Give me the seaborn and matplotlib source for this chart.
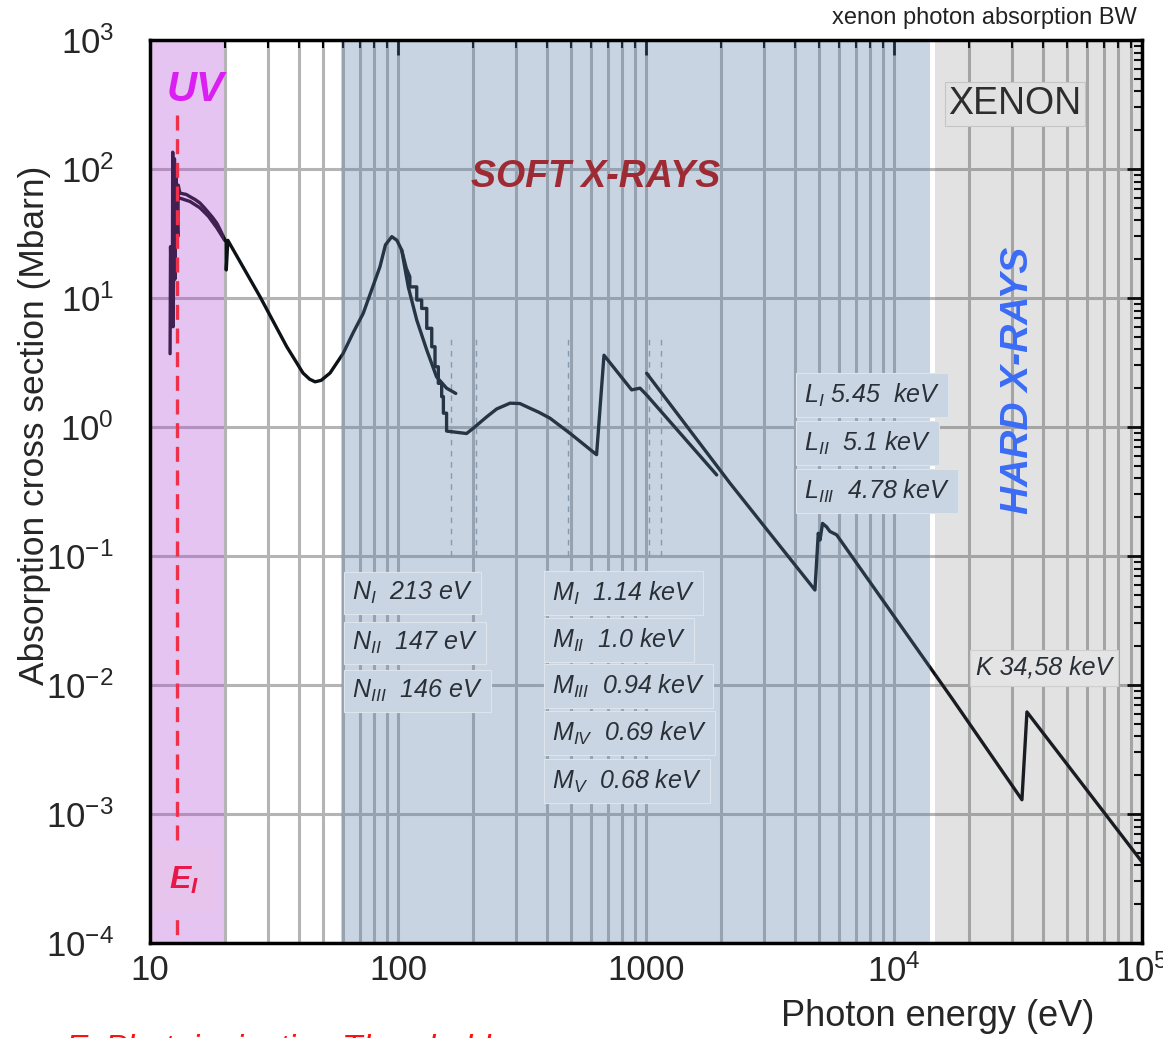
import numpy as np
import pandas as pd
import matplotlib
matplotlib.use("Agg")
import matplotlib.pyplot as plt
from matplotlib.ticker import LogLocator, FixedLocator, FixedFormatter, NullFormatter
import seaborn as sns

sns.set_theme(style="white")
plt.rcParams["font.family"] = ["Liberation Sans", "DejaVu Sans"]
plt.rcParams["mathtext.fontset"] = "custom"
plt.rcParams["mathtext.rm"] = "Liberation Sans"
plt.rcParams["mathtext.it"] = "Liberation Sans:italic"
plt.rcParams["mathtext.bf"] = "Liberation Sans:bold"
plt.rcParams["mathtext.bfit"] = "Liberation Sans:italic:bold"
plt.rcParams["mathtext.default"] = "regular"

# ---- photoabsorption cross section of xenon (eV, Mbarn) ----
autoion_energy = [12.05, 12.1, 12.3, 12.35, 12.4, 12.55, 12.6, 12.7, 12.95, 13.0, 13.2]
autoion_sigma = [3.7, 25, 6, 135, 6, 120, 14, 100, 30, 75, 65]

valence_energy = [13.2, 14.0, 14.5, 15.2, 15.9, 16.5, 17.2, 17.9, 18.6, 19.3, 20.0,
                  20.3, 20.3, 20.6, 27.8, 35.6, 41.4, 44.0, 46.3, 49.0, 53.2, 60.1,
                  66.0, 72.4, 84.6, 89.0, 94.4, 99.0, 103.5, 110, 119, 130.6, 143,
                  157, 171]
valence_sigma = [65, 63.5, 61, 58, 54.5, 50.5, 46, 42, 38, 33, 28.5,
                 27, 16.5, 28, 10.2, 4.19, 2.62, 2.35, 2.24, 2.3, 2.62, 3.72,
                 5.4, 7.6, 17.5, 25.8, 29.9, 28.0, 23.5, 12.2, 6.75, 3.95, 2.45,
                 2.0, 1.82]

valence2_energy = [13.0, 14.5, 15.9, 17.2, 18.6, 20.0]
valence2_sigma = [60, 56, 50, 43, 35, 28]

nm_energy = [103.5, 108, 111.6, 111.6, 119, 119, 124.6, 124.6, 130.6, 130.6, 136.8,
             136.8, 141, 141, 145.4, 145.4, 150, 150, 152.4, 152.4, 157, 157, 189,
             201, 228, 250, 283, 310, 340, 370, 410, 494, 632, 677, 875, 946, 1006,
             1928]
nm_sigma = [23.5, 17, 14.6, 12.2, 12.2, 9.65, 9.65, 8.3, 8.3, 5.82, 5.82,
            4.19, 4.19, 2.93, 2.93, 2.18, 2.18, 1.72, 1.72, 1.28, 1.28, 0.93, 0.89,
            0.977, 1.2, 1.38, 1.53, 1.52, 1.40, 1.30, 1.17, 0.893, 0.61, 3.6, 1.94,
            2.0, 1.77, 0.425]

lk_energy = [1006, 2183, 4800, 4950, 5030, 5150, 5350, 5515, 5870, 17300, 32800,
             34360, 100000]
lk_sigma = [2.61, 0.366, 0.0545, 0.15, 0.133, 0.179, 0.168, 0.155, 0.146, 0.00766,
            0.00129, 0.00618, 0.000425]

# absorption edge markers (eV) and ionisation threshold
edge_marks = [164, 206, 484, 1030, 1148]
E_ion = 12.8

x_ticks = [10, 100, 1000, 1e4, 1e5]
x_labels = ["10", "100", "1000", r"$10^{4}$", r"$10^{5}$"]
y_ticks = [1e-4, 1e-3, 1e-2, 1e-1, 1, 10, 100, 1000]
y_labels = [r"$10^{-4}$", r"$10^{-3}$", r"$10^{-2}$", r"$10^{-1}$",
            r"$10^{0}$", r"$10^{1}$", r"$10^{2}$", r"$10^{3}$"]

n_labels = [r"N$_{\mathit{I}}$  213 eV", r"N$_{\mathit{II}}$  147 eV", r"N$_{\mathit{III}}$  146 eV"]
m_labels = [r"M$_{\mathit{I}}$  1.14 keV", r"M$_{\mathit{II}}$  1.0 keV", r"M$_{\mathit{III}}$  0.94 keV",
            r"M$_{\mathit{IV}}$  0.69 keV", r"M$_{\mathit{V}}$  0.68 keV"]
l_labels = [r"L$_{\mathit{I}}$ 5.45  keV", r"L$_{\mathit{II}}$  5.1 keV", r"L$_{\mathit{III}}$  4.78 keV"]
k_label = "K 34,58 keV"

segments = [("autoion", autoion_energy, autoion_sigma),
            ("valence", valence_energy, valence_sigma),
            ("valence2", valence2_energy, valence2_sigma),
            ("nm", nm_energy, nm_sigma),
            ("lk", lk_energy, lk_sigma)]
rows = []
for name, xs, ys in segments:
    for xv, yv in zip(xs, ys):
        rows.append((name, xv, yv))
df = pd.DataFrame(rows, columns=["segment", "energy", "sigma"])

fig = plt.figure(figsize=(11.63, 10.38), dpi=100)
ax = fig.add_axes([150 / 1163, 95 / 1038, 992 / 1163, 903 / 1038])
ax.set_xscale("log")
ax.set_yscale("log")
ax.set_xlim(10, 1e5)
ax.set_ylim(1e-4, 1e3)

# grid below everything
ax.set_axisbelow(True)
ax.xaxis.set_minor_locator(LogLocator(base=10, subs=np.arange(2, 10)))
ax.yaxis.set_minor_locator(LogLocator(base=10, subs=np.arange(2, 10)))
ax.xaxis.set_major_locator(FixedLocator(x_ticks))
ax.yaxis.set_major_locator(FixedLocator(y_ticks))
ax.xaxis.set_major_formatter(FixedFormatter(x_labels))
ax.yaxis.set_major_formatter(FixedFormatter(y_labels))
ax.xaxis.set_minor_formatter(NullFormatter())
ax.yaxis.set_minor_formatter(NullFormatter())
ax.grid(True, which="both", axis="x", color="#b4b4b4", lw=2.2)
ax.grid(True, which="major", axis="y", color="#b4b4b4", lw=2.2)

ax.vlines(edge_marks, 0.1, 5, colors="#9aa6b4", lw=1, linestyles=(0, (4, 4)), zorder=1.5)

sns.lineplot(data=df, x="energy", y="sigma", units="segment", estimator=None,
             sort=False, color="#0d1217", lw=2.4, ax=ax, legend=False, zorder=2.5)

# spectral regions
ax.axvspan(10, 19.8, color="#b141d2", alpha=0.31, lw=0, zorder=3)
ax.axvspan(59, 14000, color="#5b7fa7", alpha=0.33, lw=0, zorder=3)
ax.axvspan(14620, 1e5, color="#575757", alpha=0.17, lw=0, zorder=3)

# ionisation threshold
ax.plot([E_ion, E_ion], [262, 1e-4], color="#f0304a", lw=2.4,
        dashes=(4.5, 2.6), zorder=4)

ax.set_xlabel("")
ax.set_ylabel("")


def fx(px):
    return (px - 150) / 992


def fy(py):
    return (943 - py) / 903


ax.text(fx(195), fy(90), "UV", transform=ax.transAxes, ha="center", va="center",
        fontsize=30, fontweight="bold", style="italic", color="#d91ff2", zorder=6)
ax.text(fx(184), fy(880), r"E$_{\mathbfit{I}}$", transform=ax.transAxes, ha="center",
        va="center", fontsize=23, fontweight="bold", style="italic", color="#e8174a",
        zorder=6, bbox=dict(boxstyle="square,pad=0.5", fc="#e7c4ec", ec="none"))
ax.text(fx(596), fy(177), "SOFT X-RAYS", transform=ax.transAxes, ha="center", va="center",
        fontsize=27, fontweight="bold", style="italic", color="#9e2b33", zorder=6)
ax.text(fx(1018), fy(380), "HARD X-RAYS", transform=ax.transAxes, ha="center", va="center",
        rotation=90, fontsize=28, fontweight="bold", style="italic", color="#3b6cf6", zorder=6)
ax.text(fx(1015), fy(104), "XENON", transform=ax.transAxes, ha="center", va="center",
        fontsize=27, color="#2d2d2d", zorder=6,
        bbox=dict(boxstyle="square,pad=0.1", fc="#e1e1e1", ec="#c5c5c5", lw=0.8))

label_kw = dict(transform=ax.transAxes, ha="left", va="center", fontsize=18,
                style="italic", color="#2a3038", zorder=6)
box_blue = dict(boxstyle="square,pad=0.32", fc="#c9d5e2", ec="#dde4ec", lw=0.8)
for txt, py in zip(n_labels, [593, 643, 691]):
    ax.text(fx(352), fy(py), txt, bbox=box_blue, **label_kw)
for txt, py in zip(m_labels, [593, 640, 686, 733, 781]):
    ax.text(fx(552), fy(py), txt, bbox=box_blue, **label_kw)
for txt, py in zip(l_labels, [395, 443, 491]):
    ax.text(fx(804), fy(py), txt, bbox=box_blue, **label_kw)
ax.text(fx(976), fy(668), k_label,
        bbox=dict(boxstyle="square,pad=0.25", fc="#e4e4e4", ec="#cfcfcf", lw=0.8), **label_kw)

# axes frame and ticks
for sp in ax.spines.values():
    sp.set_visible(True)
    sp.set_color("black")
    sp.set_linewidth(2.5)
    sp.set_zorder(7)
ax.tick_params(which="both", direction="in", top=True, right=True, color="black")
ax.tick_params(which="major", length=11, width=2)
ax.tick_params(which="minor", length=6, width=1.5)
ax.tick_params(axis="x", which="major", labelsize=25, pad=8)
ax.tick_params(axis="y", which="major", labelsize=25, pad=26)

fig.text(35 / 1163, 1 - 425 / 1038, "Absorption cross section (Mbarn)", rotation=90,
         ha="center", va="center", fontsize=25.5)
fig.text(938 / 1163, 1 - 1016 / 1038, "Photon energy (eV)", ha="center", va="center",
         fontsize=26)
fig.text(1137 / 1163, 1 - 18 / 1038, "xenon photon absorption BW", ha="right", va="center",
         fontsize=17, color="#222222")
fig.text(65 / 1163, 1 - 1059 / 1038, r"E$_{\mathit{I}}$ Photoionization Threshold",
         ha="left", va="baseline", fontsize=24, style="italic", color="#ff1010")

fig.savefig("out.png", dpi=100)
